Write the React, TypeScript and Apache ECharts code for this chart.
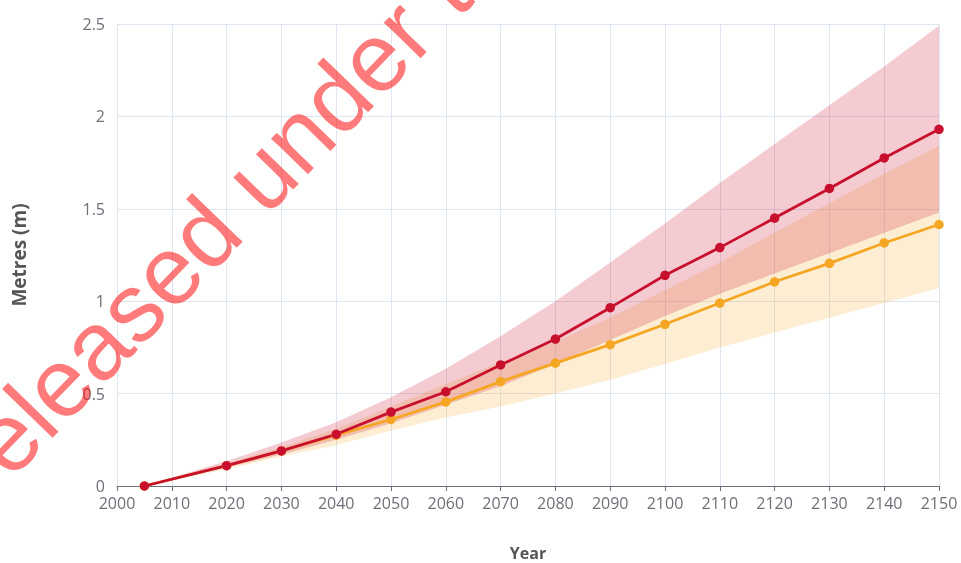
import React, { useEffect, useRef } from "react";
import * as echarts from "echarts";

// Years of the projection
const years = [2005, 2020, 2030, 2040, 2050, 2060, 2070, 2080, 2090, 2100, 2110, 2120, 2130, 2140, 2150];

// High-emissions scenario (red): median and likely range
const highMedian = [0, 0.11, 0.19, 0.28, 0.40, 0.51, 0.655, 0.795, 0.965, 1.14, 1.29, 1.45, 1.61, 1.775, 1.93];
const highLower = [0, 0.10, 0.17, 0.25, 0.34, 0.44, 0.54, 0.66, 0.79, 0.92, 1.04, 1.15, 1.26, 1.37, 1.48];
const highUpper = [0, 0.135, 0.235, 0.345, 0.48, 0.635, 0.81, 1.0, 1.21, 1.42, 1.64, 1.85, 2.06, 2.27, 2.49];

// Lower-emissions scenario (orange): median and likely range
const lowMedian = [0, 0.11, 0.19, 0.275, 0.36, 0.455, 0.565, 0.665, 0.765, 0.875, 0.99, 1.105, 1.205, 1.315, 1.415];
const lowLower = [0, 0.09, 0.16, 0.22, 0.30, 0.37, 0.43, 0.50, 0.575, 0.66, 0.75, 0.83, 0.91, 0.99, 1.07];
const lowUpper = [0, 0.12, 0.21, 0.31, 0.43, 0.55, 0.67, 0.78, 0.91, 1.06, 1.21, 1.37, 1.53, 1.69, 1.84];

const xName = "Year";
const yName = "Metres (m)";
const watermark = "released under the";

const RED = "#c8102e";
const ORANGE = "#f5a623";

export default function App() {
  const ref = useRef<HTMLDivElement>(null);

  useEffect(() => {
    if (!ref.current) return;
    const chart = echarts.init(ref.current, null, { renderer: "svg" });
    const pair = (ys: number[]) => years.map((y, i) => [y, ys[i]]);

    const band = (lo: number[], hi: number[], fill: string) => ({
      type: "custom",
      silent: true,
      z: 1,
      data: years.map((y, i) => [y, lo[i], hi[i]]),
      encode: { x: 0, y: [1, 2] },
      renderItem: (params: any, api: any) => {
        if (params.dataIndex !== 0) return null;
        const upper = years.map((y, i) => api.coord([y, hi[i]]));
        const lower = years.map((y, i) => api.coord([y, lo[i]])).reverse();
        return {
          type: "polygon",
          shape: { points: upper.concat(lower) },
          style: { fill },
        };
      },
    });

    const medianLine = (data: number[][], color: string) => ({
      type: "line",
      data,
      symbol: "circle",
      symbolSize: 9.5,
      lineStyle: { color, width: 2.8 },
      itemStyle: { color },
      emphasis: { disabled: true },
      z: 3,
    });

    chart.setOption({
      animation: false,
      textStyle: { fontFamily: "Open Sans" },
      grid: {
        left: 117,
        right: 22,
        top: 24,
        bottom: 77,
        containLabel: false,
        outerBoundsMode: "none",
      },
      xAxis: {
        type: "value",
        min: 2000,
        max: 2150,
        interval: 10,
        name: xName,
        nameLocation: "middle",
        nameGap: 59,
        nameTextStyle: {
          fontWeight: "bold",
          fontSize: 16,
          lineHeight: 16,
          color: "#555",
          fontFamily: "Open Sans",
        },
        axisLine: { show: true, lineStyle: { color: "#6e7079" } },
        axisTick: { show: true, length: 5, lineStyle: { color: "#6e7079" } },
        axisLabel: {
          color: "#6e7079",
          fontSize: 16,
          lineHeight: 16,
          margin: 9,
          fontFamily: "Open Sans",
          formatter: (v: number) => String(v),
        },
        splitLine: { show: true, lineStyle: { color: "#e0e6f1" } },
      },
      yAxis: {
        type: "value",
        min: 0,
        max: 2.5,
        interval: 0.5,
        name: yName,
        nameLocation: "middle",
        nameGap: 89,
        nameTextStyle: { fontWeight: "bold", fontSize: 19, color: "#555", fontFamily: "Open Sans" },
        axisLine: { show: false },
        axisTick: { show: false },
        axisLabel: {
          color: "#6e7079",
          fontSize: 16,
          lineHeight: 14,
          margin: 12,
          fontFamily: "Open Sans",
        },
        splitLine: { show: true, lineStyle: { color: "#e0e6f1" } },
      },
      series: [
        band(lowLower, lowUpper, "rgba(245,166,35,0.2)"),
        band(highLower, highUpper, "rgba(200,16,46,0.22)"),
        medianLine(pair(lowMedian), ORANGE),
        medianLine(pair(highMedian), RED),
      ],
      graphic: [
        {
          type: "text",
          x: -36,
          y: 481,
          rotation: (45.9 * Math.PI) / 180,
          z: 100,
          silent: true,
          style: {
            text: watermark,
            fontSize: 97,
            fontFamily: "Liberation Sans",
            fill: "rgba(255,0,0,0.52)",
            align: "left",
            verticalAlign: "middle",
            textAlign: "left",
            textVerticalAlign: "middle",
          },
        },
      ],
    });

    return () => chart.dispose();
  }, []);

  return (
    <div
      ref={ref}
      style={{ position: "fixed", left: 0, top: 0, width: 961, height: 563 }}
    />
  );
}
